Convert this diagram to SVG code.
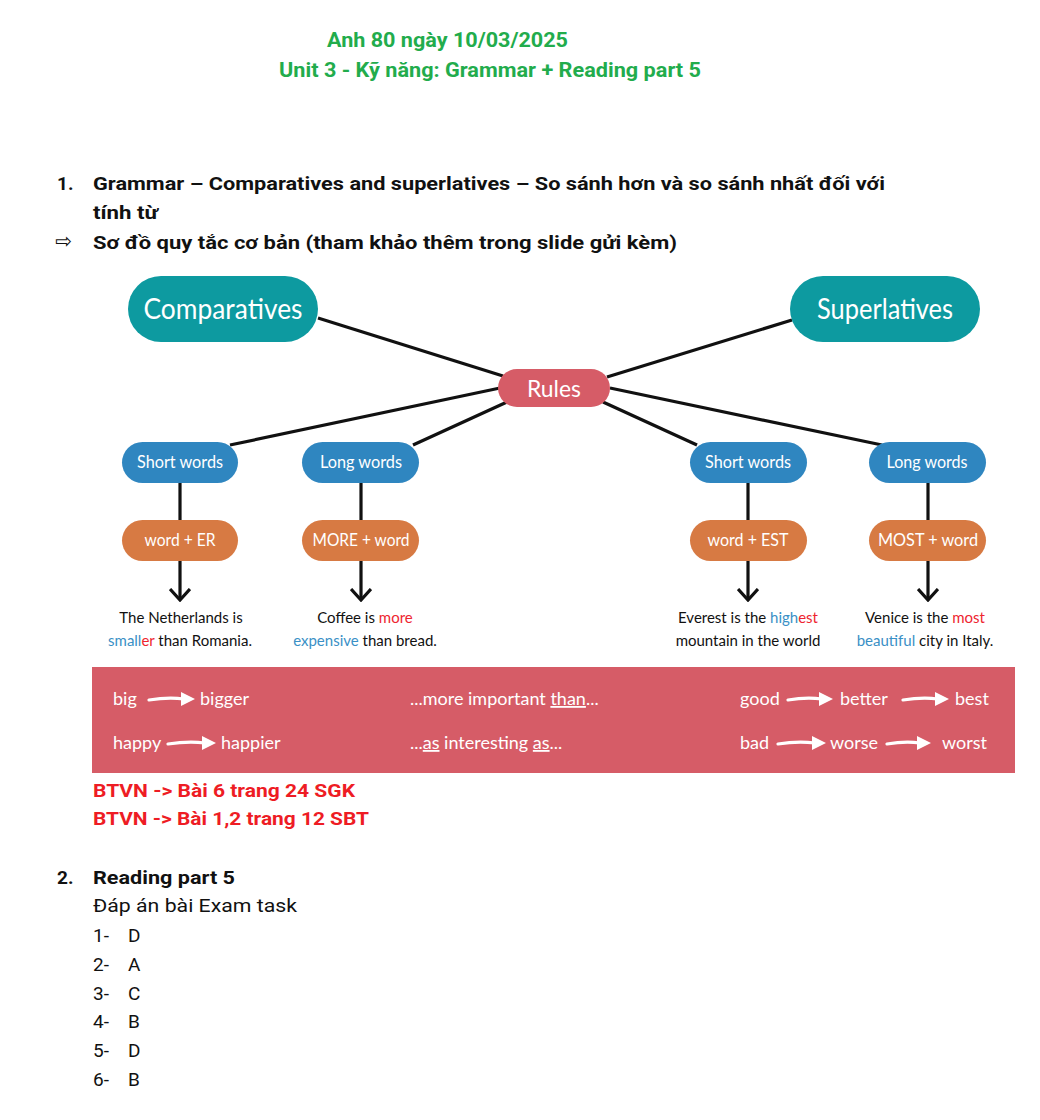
<svg xmlns="http://www.w3.org/2000/svg" width="1040" height="1120" viewBox="0 0 1040 1120">
<defs>
<style>
.title{font-family:Roboto,"Noto Sans",sans-serif;font-weight:bold;font-size:21px;fill:#22ac4c;}
.hd{font-family:Roboto,"Noto Sans",sans-serif;font-weight:bold;font-size:19px;fill:#111;}
.tx{font-family:Roboto,"Noto Sans",sans-serif;font-size:19px;fill:#111;}
.sym{font-family:"DejaVu Sans",sans-serif;font-size:20px;fill:#111;}
.red{font-family:Roboto,"Noto Sans",sans-serif;font-weight:bold;font-size:19px;fill:#ee1c24;}
.dg{font-family:Lato,"Open Sans",sans-serif;}
.big{font-size:28px;fill:#fff;text-anchor:middle;}
.pill{font-size:17px;fill:#fff;text-anchor:middle;}
.rl{font-size:24px;fill:#fff;text-anchor:middle;}
.ex{font-size:15px;fill:#111;text-anchor:middle;}
.bl{fill:#3a90c6;}
.rd{fill:#ee2530;}
.bn{font-size:18px;fill:#fff;}
.teal{fill:#0d9aa0;}
.blue{fill:#2f86c0;}
.orange{fill:#d77a43;}
.rose{fill:#d65c67;}
.conn{stroke:#111;stroke-width:3.2;fill:none;}
.wa{stroke:#fff;stroke-width:3.2;fill:none;stroke-linecap:round;}
</style>
<marker id="chev" viewBox="0 0 14 22" refX="12" refY="11" markerWidth="14" markerHeight="22" markerUnits="userSpaceOnUse" orient="auto">
<path d="M1 1 L12 11 L1 21" stroke="#111" stroke-width="3.2" fill="none"/>
</marker>
</defs>
<rect width="1040" height="1120" fill="#fff"/>

<g id="title">
<text class="title" x="327" y="47" textLength="241" lengthAdjust="spacingAndGlyphs">Anh 80 ngày 10/03/2025</text>
<text class="title" x="279" y="77" textLength="422" lengthAdjust="spacingAndGlyphs">Unit 3 - Kỹ năng: Grammar + Reading part 5</text>
</g>

<g id="section1">
<text class="hd" x="57" y="190">1.</text>
<text class="hd" x="93" y="190" textLength="792" lengthAdjust="spacingAndGlyphs">Grammar – Comparatives and superlatives – So sánh hơn và so sánh nhất đối với</text>
<text class="hd" x="93" y="219" textLength="65" lengthAdjust="spacingAndGlyphs">tính từ</text>
<text class="sym" x="55" y="248">⇨</text>
<text class="hd" x="93" y="249" textLength="584" lengthAdjust="spacingAndGlyphs">Sơ đồ quy tắc cơ bản (tham khảo thêm trong slide gửi kèm)</text>
</g>

<g id="connectors">
<line class="conn" x1="318" y1="318" x2="503" y2="376"/>
<line class="conn" x1="792" y1="320" x2="607" y2="377"/>
<line class="conn" x1="230" y1="445" x2="500" y2="388"/>
<line class="conn" x1="413" y1="445" x2="507" y2="402"/>
<line class="conn" x1="603" y1="402" x2="697" y2="445"/>
<line class="conn" x1="610" y1="388" x2="882" y2="445"/>
<line class="conn" x1="180" y1="483" x2="180" y2="520"/>
<line class="conn" x1="361" y1="483" x2="361" y2="520"/>
<line class="conn" x1="748" y1="483" x2="748" y2="520"/>
<line class="conn" x1="928" y1="483" x2="928" y2="520"/>
<line class="conn" x1="180" y1="561" x2="180" y2="600" marker-end="url(#chev)"/>
<line class="conn" x1="361" y1="561" x2="361" y2="600" marker-end="url(#chev)"/>
<line class="conn" x1="748" y1="561" x2="748" y2="600" marker-end="url(#chev)"/>
<line class="conn" x1="928" y1="561" x2="928" y2="600" marker-end="url(#chev)"/>
</g>

<g id="comparatives" class="dg">
<rect class="teal" x="128" y="276" width="190" height="66" rx="33"/>
<text class="big" x="223" y="319" textLength="159" lengthAdjust="spacingAndGlyphs">Comparatives</text>
</g>
<g id="superlatives" class="dg">
<rect class="teal" x="790" y="276" width="190" height="66" rx="33"/>
<text class="big" x="885" y="319" textLength="136" lengthAdjust="spacingAndGlyphs">Superlatives</text>
</g>
<g id="rules" class="dg">
<rect class="rose" x="498" y="369" width="112" height="38" rx="19"/>
<text class="rl" x="554" y="397" textLength="54" lengthAdjust="spacingAndGlyphs">Rules</text>
</g>

<g id="short-comp" class="dg">
<rect class="blue" x="122" y="442" width="116" height="41" rx="20.5"/>
<text class="pill" x="180" y="468" textLength="86" lengthAdjust="spacingAndGlyphs">Short words</text>
</g>
<g id="long-comp" class="dg">
<rect class="blue" x="302" y="442" width="117" height="41" rx="20.5"/>
<text class="pill" x="361" y="468" textLength="82" lengthAdjust="spacingAndGlyphs">Long words</text>
</g>
<g id="short-sup" class="dg">
<rect class="blue" x="690" y="442" width="117" height="41" rx="20.5"/>
<text class="pill" x="748" y="468" textLength="86" lengthAdjust="spacingAndGlyphs">Short words</text>
</g>
<g id="long-sup" class="dg">
<rect class="blue" x="869" y="442" width="117" height="41" rx="20.5"/>
<text class="pill" x="927" y="468" textLength="81" lengthAdjust="spacingAndGlyphs">Long words</text>
</g>

<g id="er" class="dg">
<rect class="orange" x="122" y="520" width="116" height="41" rx="20.5"/>
<text class="pill" x="180" y="546" textLength="71" lengthAdjust="spacingAndGlyphs">word + ER</text>
</g>
<g id="more" class="dg">
<rect class="orange" x="302" y="520" width="117" height="41" rx="20.5"/>
<text class="pill" x="361" y="546" textLength="97" lengthAdjust="spacingAndGlyphs">MORE + word</text>
</g>
<g id="est" class="dg">
<rect class="orange" x="690" y="520" width="117" height="41" rx="20.5"/>
<text class="pill" x="748" y="546" textLength="81" lengthAdjust="spacingAndGlyphs">word + EST</text>
</g>
<g id="most" class="dg">
<rect class="orange" x="869" y="520" width="117" height="41" rx="20.5"/>
<text class="pill" x="928" y="546" textLength="100" lengthAdjust="spacingAndGlyphs">MOST + word</text>
</g>

<g id="ex-er" class="dg">
<text class="ex" x="181" y="623">The Netherlands is</text>
<text class="ex" x="180" y="646"><tspan class="bl">small</tspan><tspan class="rd">er</tspan> than Romania.</text>
</g>
<g id="ex-more" class="dg">
<text class="ex" x="365" y="623">Coffee is <tspan class="rd">more</tspan></text>
<text class="ex" x="365" y="646"><tspan class="bl">expensive</tspan> than bread.</text>
</g>
<g id="ex-est" class="dg">
<text class="ex" x="748" y="623">Everest is the <tspan class="bl">high</tspan><tspan class="rd">est</tspan></text>
<text class="ex" x="748" y="646">mountain in the world</text>
</g>
<g id="ex-most" class="dg">
<text class="ex" x="925" y="623">Venice is the <tspan class="rd">most</tspan></text>
<text class="ex" x="925" y="646"><tspan class="bl">beautiful</tspan> city in Italy.</text>
</g>

<g id="banner" class="dg">
<rect class="rose" x="92" y="667" width="923" height="106"/>
<text class="bn" x="113" y="705">big</text>
<path class="wa" d="M149 700 Q168 697 184 699"/><path d="M181 692 L195 699 L181 706 Z" fill="#fff"/>
<text class="bn" x="200" y="705">bigger</text>
<text class="bn" x="113" y="749">happy</text>
<path class="wa" d="M168 744 Q188 741 205 743"/><path d="M202 736 L216 743 L202 750 Z" fill="#fff"/>
<text class="bn" x="221" y="749">happier</text>
<text class="bn" x="410" y="705">...more important <tspan text-decoration="underline">than</tspan>...</text>
<text class="bn" x="410" y="749">...<tspan text-decoration="underline">as</tspan> interesting <tspan text-decoration="underline">as</tspan>...</text>
<text class="bn" x="740" y="705">good</text>
<path class="wa" d="M788 700 Q806 697 822 699"/><path d="M819 692 L833 699 L819 706 Z" fill="#fff"/>
<text class="bn" x="840" y="705">better</text>
<path class="wa" d="M903 700 Q922 697 938 699"/><path d="M935 692 L949 699 L935 706 Z" fill="#fff"/>
<text class="bn" x="955" y="705">best</text>
<text class="bn" x="740" y="749">bad</text>
<path class="wa" d="M778 744 Q797 741 815 743"/><path d="M812 736 L826 743 L812 750 Z" fill="#fff"/>
<text class="bn" x="830" y="749">worse</text>
<path class="wa" d="M887 744 Q905 741 920 743"/><path d="M917 736 L931 743 L917 750 Z" fill="#fff"/>
<text class="bn" x="942" y="749">worst</text>
</g>

<g id="homework">
<text class="red" x="93" y="797" textLength="262" lengthAdjust="spacingAndGlyphs">BTVN -&gt; Bài 6 trang 24 SGK</text>
<text class="red" x="93" y="825" textLength="276" lengthAdjust="spacingAndGlyphs">BTVN -&gt; Bài 1,2 trang 12 SBT</text>
</g>

<g id="section2">
<text class="hd" x="57" y="884">2.</text>
<text class="hd" x="93" y="884" textLength="142" lengthAdjust="spacingAndGlyphs">Reading part 5</text>
<text class="tx" x="93" y="912" textLength="204" lengthAdjust="spacingAndGlyphs">Đáp án bài Exam task</text>
<text class="tx" x="93" y="942">1-</text><text class="tx" x="128" y="942">D</text>
<text class="tx" x="93" y="971">2-</text><text class="tx" x="128" y="971">A</text>
<text class="tx" x="93" y="1000">3-</text><text class="tx" x="128" y="1000">C</text>
<text class="tx" x="93" y="1028">4-</text><text class="tx" x="128" y="1028">B</text>
<text class="tx" x="93" y="1057">5-</text><text class="tx" x="128" y="1057">D</text>
<text class="tx" x="93" y="1086">6-</text><text class="tx" x="128" y="1086">B</text>
</g>
</svg>
